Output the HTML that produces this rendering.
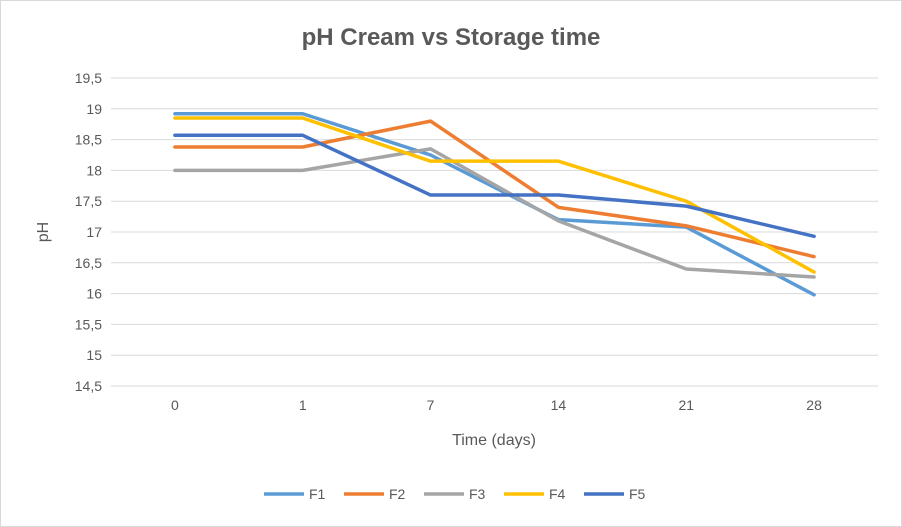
<!DOCTYPE html>
<html><head><meta charset="utf-8">
<style>
body{margin:0;background:#fff;}
svg{display:block;font-family:"Liberation Sans",Calibri,sans-serif;}
</style></head>
<body>
<svg id="chart" width="902" height="527">
<rect x="0.5" y="0.5" width="901" height="526" fill="#fff" stroke="#d9d9d9"/>
<text x="451" y="45" text-anchor="middle" font-size="24" font-weight="bold" fill="#595959">pH Cream vs Storage time</text>
<g id="grid"></g><g id="yticks"></g><g id="xticks"></g><g id="series"></g>
<text x="494" y="445" text-anchor="middle" font-size="16" fill="#595959">Time (days)</text>
<text transform="translate(48,232) rotate(-90)" text-anchor="middle" font-size="16" fill="#595959">pH</text>
<g id="legend"></g>
</svg>
<script>
const categories=["0","1","7","14","21","28"];
const seriesNames=["F1","F2","F3","F4","F5"];
const seriesColors=["#5b9bd5","#ed7d31","#a5a5a5","#ffc000","#4472c4"];
const f1=[18.92,18.92,18.25,17.2,17.08,15.98];
const f2=[18.38,18.38,18.8,17.4,17.1,16.6];
const f3=[18.0,18.0,18.35,17.18,16.4,16.27];
const f4=[18.85,18.85,18.15,18.15,17.5,16.35];
const f5=[18.57,18.57,17.6,17.6,17.42,16.93];
const yTicks=[14.5,15,15.5,16,16.5,17,17.5,18,18.5,19,19.5];
const seriesData=[f1,f2,f3,f4,f5];
const NS="http://www.w3.org/2000/svg";
const yMin=14.5,yMax=19.5,yTop=78,yBot=386,xL=111,xR=878;
const step=(xR-xL)/categories.length;
const y=v=>yBot-(v-yMin)/(yMax-yMin)*(yBot-yTop);
const x=i=>xL+step*(i+0.5);
function mk(t,a,p){const e=document.createElementNS(NS,t);for(const k in a)e.setAttribute(k,a[k]);p.appendChild(e);return e;}
const grid=document.getElementById('grid'),yt=document.getElementById('yticks'),xt=document.getElementById('xticks'),ser=document.getElementById('series'),leg=document.getElementById('legend');
yTicks.forEach(v=>{
 const l=mk('line',{x1:xL,x2:xR,y1:y(v),y2:y(v),stroke:'#d9d9d9','stroke-width':1},grid);
 
 
 const t=mk('text',{x:xL-9,y:y(v)+5,'text-anchor':'end','font-size':14,fill:'#595959'},yt);
 t.textContent=String(v).replace('.',',');
 
 
});
categories.forEach((c,i)=>{
 const t=mk('text',{x:x(i),y:yBot+24,'text-anchor':'middle','font-size':14,fill:'#595959'},xt);
 t.textContent=c;
 
 
});
seriesData.forEach((d,s)=>{
 const p=mk('polyline',{points:d.map((v,i)=>x(i)+','+y(v)).join(' '),fill:'none',stroke:seriesColors[s],'stroke-width':3.5,'stroke-linejoin':'round','stroke-linecap':'round'},ser);
 
 
});
seriesNames.forEach((n,s)=>{
 const lx=264+s*80;
 const g=mk('g',{},leg);
 
 
 mk('line',{x1:lx,x2:lx+40,y1:494,y2:494,stroke:seriesColors[s],'stroke-width':3.5},g);
 const t=mk('text',{x:lx+45,y:499,'font-size':14,fill:'#595959'},g);
 t.textContent=n;
});
</script>
</body></html>
